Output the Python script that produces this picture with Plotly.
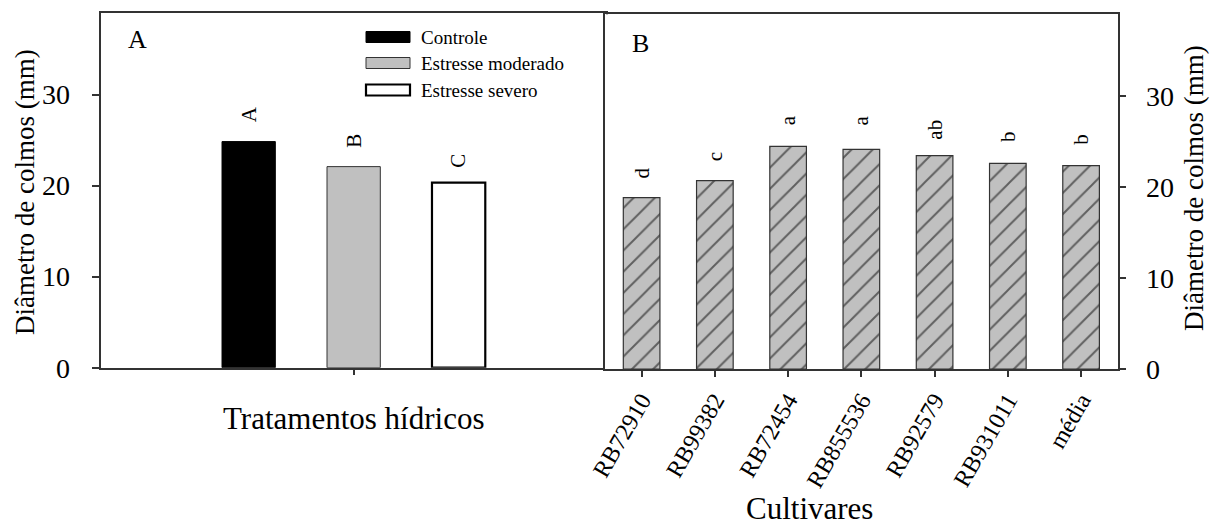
import plotly.graph_objects as go

W, H = 1216, 525
FONT = "Liberation Serif"

# Panel A: water treatments
treatments = ["Controle", "Estresse moderado", "Estresse severo"]
treat_values = [24.84, 22.09, 20.33]
treat_letters = ["A", "B", "C"]
treat_letter_y = [26.7, 23.9, 21.7]
treat_fill = ["#000000", "#c0c0c0", "#ffffff"]
treat_edge = ["#000000", "#333333", "#000000"]
treat_edge_w = [1.0, 1.0, 2.2]

# Panel B: cultivars
cultivars = ["RB72910", "RB99382", "RB72454", "RB855536", "RB92579", "RB931011", "média"]
cult_values = [18.85, 20.71, 24.48, 24.15, 23.46, 22.61, 22.36]
cult_letters = ["d", "c", "a", "a", "ab", "b", "b"]
cult_letter_y = [20.75, 22.65, 26.6, 26.6, 24.95, 24.77, 24.4]

y_ticks = [0, 10, 20, 30]
y_title = "Diâmetro de colmos (mm)"


def px_x(p):
    return p / W


def px_y(p):
    return 1 - p / H


fig = go.Figure()

# grouped bars of panel A, one per treatment around a single x position
bar_w_a = 0.1056
step_a = 0.208
for i, name in enumerate(treatments):
    fig.add_trace(go.Bar(
        x=[0], y=[treat_values[i]], name=name,
        width=[bar_w_a], offset=(i - 1) * step_a - bar_w_a / 2,
        marker=dict(color=treat_fill[i],
                    line=dict(color=treat_edge[i], width=treat_edge_w[i])),
        xaxis="x", yaxis="y", showlegend=False,
    ))

# hatched bars of panel B
fig.add_trace(go.Bar(
    x=cultivars, y=cult_values, width=0.5,
    marker=dict(color="#c0c0c0",
                line=dict(color="#333333", width=1.2),
                pattern=dict(shape="/", size=15, solidity=0.13,
                             fgcolor="#000000", bgcolor="#c0c0c0",
                             fillmode="overlay")),
    xaxis="x2", yaxis="y2", showlegend=False,
))

ann = []
for i, lt in enumerate(treat_letters):
    ann.append(dict(x=(i - 1) * step_a, y=treat_letter_y[i], xref="x", yref="y",
                    text=lt, textangle=-90, showarrow=False, yanchor="bottom",
                    font=dict(family=FONT, size=21, color="black")))
for c, lt, ly in zip(cultivars, cult_letters, cult_letter_y):
    ann.append(dict(x=c, y=ly, xref="x2", yref="y2",
                    text=lt, textangle=-90, showarrow=False, yanchor="bottom",
                    font=dict(family=FONT, size=21, color="black")))

# panel letters
ann.append(dict(x=px_x(126), y=px_y(40), xref="paper", yref="paper", text="A",
                showarrow=False, xanchor="left", yanchor="middle",
                font=dict(family=FONT, size=26, color="black")))
ann.append(dict(x=px_x(630), y=px_y(43), xref="paper", yref="paper", text="B",
                showarrow=False, xanchor="left", yanchor="middle",
                font=dict(family=FONT, size=26, color="black")))

# axis titles
ann.append(dict(x=px_x(25), y=px_y(192), xref="paper", yref="paper", text=y_title,
                textangle=-90, showarrow=False, xanchor="center", yanchor="middle",
                font=dict(family=FONT, size=27, color="black")))
ann.append(dict(x=px_x(1194), y=px_y(188), xref="paper", yref="paper", text=y_title,
                textangle=-90, showarrow=False, xanchor="center", yanchor="middle",
                font=dict(family=FONT, size=27, color="black")))
ann.append(dict(x=px_x(353), y=px_y(418), xref="paper", yref="paper",
                text="Tratamentos hídricos", showarrow=False,
                xanchor="center", yanchor="middle",
                font=dict(family=FONT, size=31, color="black")))
ann.append(dict(x=px_x(810), y=px_y(508), xref="paper", yref="paper",
                text="Cultivares", showarrow=False,
                xanchor="center", yanchor="middle",
                font=dict(family=FONT, size=31, color="black")))

# legend of panel A drawn as swatches + labels
shapes = []
leg_rows = [37, 63, 90]
for i, name in enumerate(treatments):
    yc = leg_rows[i]
    shapes.append(dict(type="rect", xref="paper", yref="paper",
                       x0=px_x(366), x1=px_x(410), y0=px_y(yc + 5.5), y1=px_y(yc - 5.5),
                       fillcolor=treat_fill[i],
                       line=dict(color=treat_edge[i], width=treat_edge_w[i])))
    ann.append(dict(x=px_x(419), y=px_y(yc), xref="paper", yref="paper", text=name,
                    showarrow=False, xanchor="left", yanchor="middle",
                    font=dict(family=FONT, size=19, color="black")))

axis_line = dict(showline=True, linecolor="#333333", linewidth=1.5, mirror=True,
                 showgrid=False, zeroline=False, ticks="outside",
                 tickcolor="#333333", tickwidth=1.5, automargin=False)

fig.update_layout(
    width=W, height=H, autosize=False,
    margin=dict(l=0, r=0, t=0, b=0, pad=0, autoexpand=False),
    paper_bgcolor="white", plot_bgcolor="white",
    barmode="overlay", showlegend=False,
    font=dict(family=FONT, color="black"),
    xaxis=dict(domain=[px_x(101.3), px_x(606)], range=[-0.5, 0.5],
               tickvals=[0], ticktext=[""], ticklen=6, anchor="y", **axis_line),
    yaxis=dict(domain=[px_y(367.7), px_y(12.7)], range=[0, 39],
               tickvals=y_ticks, ticklen=8, ticklabelstandoff=16,
               tickfont=dict(family=FONT, size=28, color="black"),
               anchor="x", **axis_line),
    xaxis2=dict(domain=[px_x(605), px_x(1117.7)], range=[-0.5, 6.5],
                type="category", ticklen=6, tickangle=-60,
                tickfont=dict(family=FONT, size=24, color="black"),
                anchor="y2", **axis_line),
    yaxis2=dict(domain=[px_y(369), px_y(14.3)], range=[0, 39], side="right",
                tickvals=y_ticks, ticklen=7, ticklabelstandoff=14,
                tickfont=dict(family=FONT, size=28, color="black"),
                anchor="x2", **axis_line),
    annotations=ann,
    shapes=shapes,
)

fig.write_html(
    "out.html",
    post_script="document.body.style.margin='0';document.body.style.overflow='hidden';",
)
